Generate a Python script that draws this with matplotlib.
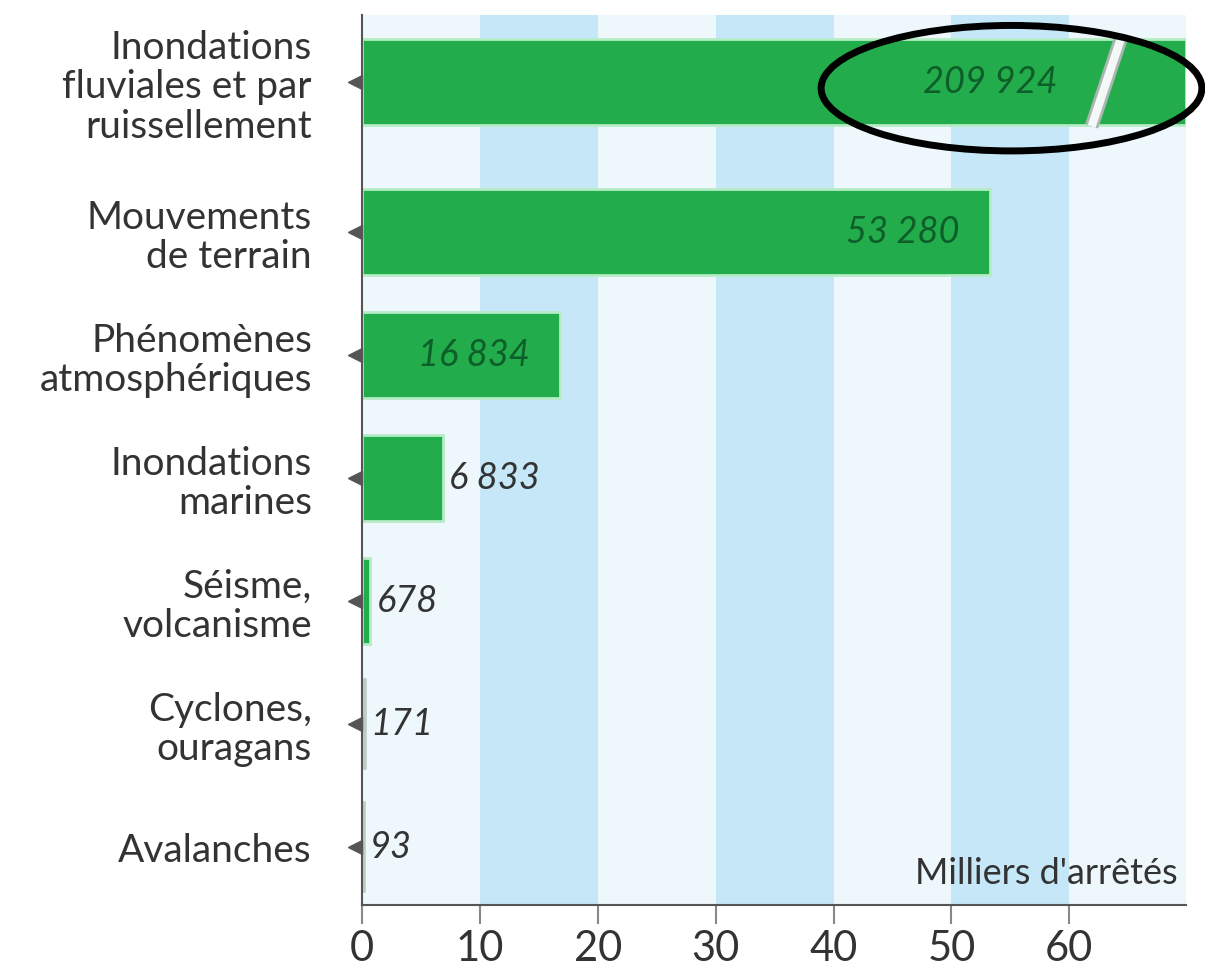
import numpy as np
import matplotlib
matplotlib.use("Agg")
import matplotlib.pyplot as plt
from matplotlib.patches import Ellipse
from matplotlib.transforms import blended_transform_factory

categories = ["Inondations\nfluviales et par\nruissellement", "Mouvements\nde terrain",
              "Phénomènes\natmosphériques", "Inondations\nmarines", "Séisme,\nvolcanisme",
              "Cyclones,\nouragans", "Avalanches"]
values = [209924, 53280, 16834, 6833, 678, 171, 93]
value_labels = ["209 924", "53 280", "16 834", "6 833", "678", "171", "93"]
xticks = [0, 10, 20, 30, 40, 50, 60]
xlabel = "Milliers d'arrêtés"

plt.rcParams['font.family'] = ['Lato', 'DejaVu Sans']

fig = plt.figure(figsize=(12.05, 9.67), dpi=100)
ax = fig.add_axes([0.3004, 0.0641, 0.6838, 0.9204])

xmax = 69.9
ypos = np.arange(len(values)) + 0.22
ypos[0] = 0.0
ax.set_xlim(0, xmax)
ax.set_ylim(6.69, -0.545)

# background stripes
for i, x0 in enumerate(range(0, 70, 10)):
    c = '#C6E7F8' if i % 2 == 1 else '#EEF7FC'
    ax.axvspan(x0, min(x0 + 10, xmax), color=c, zorder=0, lw=0)

vals_k = np.array(values) / 1000.0
green = '#22AC4B'
edges = ['#B5ECC6' if v >= 0.5 else '#BFCBC6' for v in vals_k]
widths = [2.0 if v >= 0.5 else 4.0 for v in vals_k]
ax.barh(ypos, np.minimum(vals_k, xmax), height=0.7, color=green,
        edgecolor=edges, linewidth=widths, zorder=2)

for y, v, lab in zip(ypos, vals_k, value_labels):
    if v > 10:
        if v > xmax:
            ax.text(53.3, y, lab, ha='center', va='center', fontsize=26,
                    style='italic', color='#0D5E28', zorder=4)
        else:
            ax.text(v - 2.6, y, lab, ha='right', va='center', fontsize=26,
                    style='italic', color='#0D5E28', zorder=4)
    else:
        ax.text(v + 0.55, y, lab, ha='left', va='center', fontsize=26,
                style='italic', color='#333333', zorder=4)

# break mark on first bar
ax.plot([61.9, 64.4], [ypos[0] + 0.36, ypos[0] - 0.36], color='#A8B8B0', lw=10,
        solid_capstyle='butt', zorder=3)
ax.plot([61.9, 64.4], [ypos[0] + 0.36, ypos[0] - 0.36], color='#F4F8F6', lw=6,
        solid_capstyle='butt', zorder=3)

# ellipse highlight
ell = Ellipse((55.1, ypos[0] + 0.05), 32.3, 1.02, fill=False, edgecolor='black',
              linewidth=5, zorder=5, clip_on=False)
ax.add_patch(ell)

# axes styling
for s in ['top', 'right']:
    ax.spines[s].set_visible(False)
ax.spines['left'].set_color('#555555')
ax.spines['bottom'].set_color('#555555')
ax.spines['left'].set_linewidth(1.5)
ax.spines['bottom'].set_linewidth(1.5)

ax.set_xticks(xticks)
ax.set_xticklabels([str(t) for t in xticks], fontsize=30, color='#333333')
ax.tick_params(axis='x', length=14, width=1.5, color='#888888', pad=4)

ax.set_yticks(ypos)
ax.set_yticklabels(categories, fontsize=28, color='#333333', linespacing=1.12)
ax.tick_params(axis='y', length=0, pad=36)

trans = blended_transform_factory(ax.transAxes, ax.transData)
ax.plot(np.full(len(ypos), -0.008), ypos, marker='<', markersize=10, linestyle='none',
        color='#555555', transform=trans, clip_on=False, zorder=6)

ax.text(0.99, 0.017, xlabel, transform=ax.transAxes, ha='right', va='bottom',
        fontsize=26, color='#333333', zorder=4)

fig.savefig('out.png', dpi=100)
